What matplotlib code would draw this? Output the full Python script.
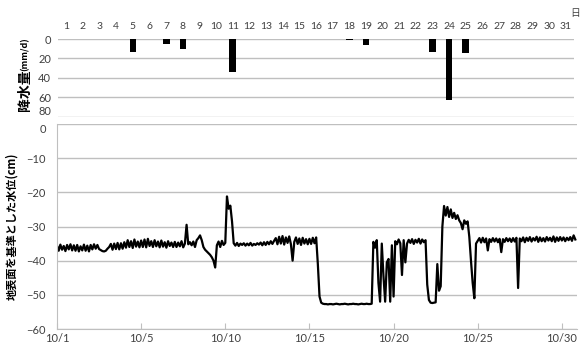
import numpy as np
import matplotlib
matplotlib.use("Agg")
from matplotlib import pyplot as plt

plt.rcParams['font.family'] = ['Lato', 'Noto Sans CJK JP', 'DejaVu Sans']

# 日降水量 (mm/d)
days = list(range(1, 32))
rain = [0, 0, 0, 0, 13.5, 0.5, 5.5, 10.5, 0, 0, 33.5, 0, 0, 0, 0, 0.5, 0, 1.5, 6, 0,
        0, 0, 13, 63, 14, 0, 0, 0, 0, 0, 0]

# 地下水位 (cm)  10/1 0:00 から 0.1日ごと
level = [
    -35.6, -37.1, -35.3, -36.8, -35.7, -37.2, -35.4, -36.7, -35.2, -37.0,  # 1日
    -35.5, -37.1, -35.4, -37.3, -35.8, -37.0, -35.3, -37.1, -35.6, -37.3,
    -35.4, -36.7, -35.2, -36.5, -35.4, -36.6, -36.9, -37.2, -37.3, -37.1,
    -36.5, -36.0, -35.1, -36.8, -35.0, -36.6, -34.8, -36.7, -34.9, -36.5,
    -34.6, -36.2, -34.0, -36.0, -34.3, -36.3, -33.8, -35.9, -34.4, -36.1,  # 5日
    -34.1, -36.0, -33.8, -36.1, -33.6, -35.7, -34.3, -36.0, -34.0, -35.8,
    -34.4, -36.1, -34.1, -35.9, -34.6, -36.2, -34.3, -35.7, -34.7, -36.0,
    -34.5, -36.0, -34.7, -35.8, -34.3, -36.1, -35.0, -29.5, -35.2, -34.6,
    -35.5, -34.4, -36.0, -34.0, -33.4, -32.6, -34.0, -36.0, -36.8, -37.3,
    -37.8, -38.3, -39.0, -40.0, -42.0, -35.5, -34.4, -36.0, -34.2, -35.4,  # 10日
    -34.8, -21.2, -24.8, -23.9, -28.5, -34.9, -35.6, -34.8, -35.7, -35.0,
    -35.4, -34.9, -35.6, -35.0, -35.5, -34.8, -35.6, -35.1, -35.4, -34.9,
    -35.3, -34.7, -35.5, -34.6, -35.4, -34.5, -35.2, -34.3, -35.1, -34.2,
    -33.4, -35.2, -33.0, -35.0, -32.8, -35.3, -33.2, -34.8, -32.9, -35.2,
    -40.0, -34.5, -33.2, -35.1, -33.5, -35.4, -33.3, -35.0, -33.7, -35.2,  # 15日
    -33.6, -35.1, -33.3, -34.9, -33.2, -41.0, -50.5, -52.3, -52.6, -52.7,
    -52.7, -52.8, -52.7, -52.7, -52.8, -52.7, -52.6, -52.7, -52.8, -52.7,
    -52.7, -52.6, -52.7, -52.8, -52.7, -52.7, -52.6, -52.7, -52.7, -52.8,
    -52.7, -52.6, -52.7, -52.7, -52.6, -52.7, -52.7, -52.6, -34.5, -36.2,
    -34.0, -46.5, -52.0, -35.0, -44.5, -52.0, -40.5, -39.5, -52.0, -35.5,  # 20日
    -50.5, -34.3, -35.2, -33.8, -34.9, -44.2, -34.0, -40.5, -35.0, -33.9,
    -34.8, -33.7, -35.1, -33.9, -34.7, -33.6, -35.0, -33.8, -34.6, -34.0,
    -47.0, -51.5, -52.3, -52.4, -52.3, -52.2, -41.0, -48.8, -47.5, -30.0,
    -24.0, -26.8, -24.3, -27.2, -25.0, -27.5, -26.0, -27.8, -26.7, -28.2,
    -29.0, -30.8, -28.2, -29.2, -28.5, -33.0, -40.0, -46.5, -51.0, -35.0,  # 25日
    -34.2, -33.4, -34.7, -33.3, -34.6, -33.5, -37.0, -33.7, -34.5, -33.4,
    -34.4, -33.5, -34.6, -33.6, -37.5, -33.7, -34.5, -33.4, -34.3, -33.5,
    -34.5, -33.4, -34.4, -33.3, -48.0, -33.5, -34.3, -33.2, -34.6, -33.3,
    -34.2, -33.1, -34.4, -33.4, -34.1, -33.0, -34.5, -33.2, -34.3, -33.4,
    -34.4, -33.1, -34.1, -33.3, -34.3, -32.9, -34.5, -33.2, -34.2, -33.1,  # 30日
    -34.1, -33.2, -34.3, -33.3, -34.0, -33.1, -34.2, -32.6, -33.8,
]
t = np.arange(len(level)) * 0.1  # 経過日数

date_ticks = [0, 5, 10, 15, 20, 25, 30]
date_labels = ['10/1', '10/5', '10/10', '10/15', '10/20', '10/25', '10/30']

grid_c = '#bfbfbf'
txt_c = '#404040'

fig = plt.figure(figsize=(5.88, 3.47), dpi=100)

# ============ 降水量 ============ #
ax1 = fig.add_axes([58/588, 1-117/347, 516/588, 78/347])
ax1.bar(np.array(days) - 0.5, rain, width=0.4, color='black')
ax1.set_xlim(0, 31)
ax1.set_ylim(80, 0)
ax1.set_yticks([0, 20, 40, 60, 80])
ax1.set_xticks(np.array(days) - 0.5)
ax1.set_xticklabels([str(d) for d in days])
ax1.xaxis.tick_top()
ax1.tick_params(axis='x', length=0, pad=6, labelsize=7.5, labelcolor=txt_c)
ax1.tick_params(axis='y', length=0, pad=5, labelsize=8, labelcolor=txt_c)
ax1.grid(axis='y', color=grid_c, linewidth=1)
ax1.set_axisbelow(True)
for s in ax1.spines.values():
    s.set_visible(False)
# 下段の「0」と重ならないよう少し上へ
ax1.get_yticklabels()[-1].set_va('bottom')

fig.text(25/588, 1-90/347, '降水量', rotation=90, ha='center', va='center',
         fontsize=10, fontweight='bold', family=['Noto Sans CJK JP'])
fig.text(25/588, 1-54/347, '(mm/d)', rotation=90, ha='center', va='center',
         fontsize=6.5, fontweight='bold', family=['Noto Sans CJK JP'])
fig.text(575/588, 1-13/347, '日', ha='center', va='center', fontsize=7,
         color=txt_c, family=['Noto Sans CJK JP'])

# ============ 水位 ============ #
ax2 = fig.add_axes([57/588, 1-329/347, 520/588, 205/347])
ax2.plot(t, level, color='black', linewidth=1.6)
ax2.set_xlim(0, 30.9)
ax2.set_ylim(-60, 0)
ax2.set_yticks([0, -10, -20, -30, -40, -50, -60])
ax2.set_xticks(date_ticks)
ax2.set_xticklabels(date_labels)
ax2.tick_params(axis='x', direction='in', length=4, color=grid_c, pad=3,
                labelsize=8, labelcolor=txt_c)
ax2.tick_params(axis='y', length=0, pad=8, labelsize=8, labelcolor=txt_c)
ax2.grid(axis='y', color=grid_c, linewidth=1)
ax2.set_axisbelow(True)
for k in ['top', 'right']:
    ax2.spines[k].set_visible(False)
for k in ['left', 'bottom']:
    ax2.spines[k].set_color(grid_c)
ax2.get_yticklabels()[0].set_va('top')
ax2.set_ylabel('地表面を基準とした水位(cm)', fontsize=8, fontweight='bold',
               family=['Noto Sans CJK JP'], labelpad=4)
ax2.yaxis.set_label_coords(-(57-18)/520, 0.5)

fig.savefig('out.png', dpi=100)
